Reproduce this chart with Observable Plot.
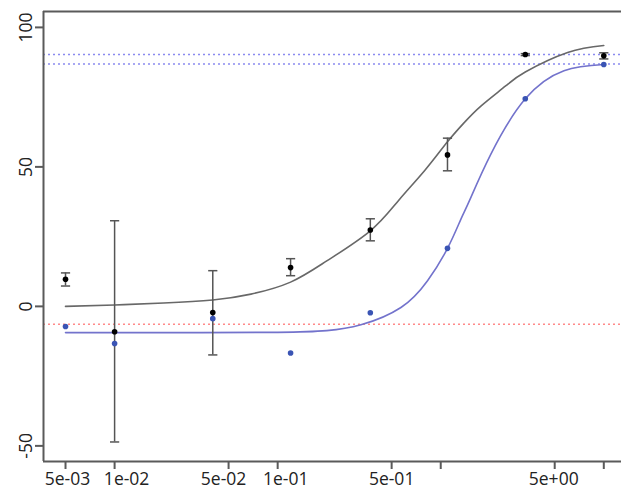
<!DOCTYPE html>
<html>
<head>
<meta charset="utf-8">
<script src="https://cdn.jsdelivr.net/npm/d3@7"></script>
<script src="https://cdn.jsdelivr.net/npm/@observablehq/plot@0.6"></script>
<style>
  html, body { margin: 0; padding: 0; background: white; }
  #chart svg { display: block; }
</style>
</head>
<body>
<div id="chart"></div>
<script>
// Doses (x) shared by both series
const doses = [0.005, 0.01, 0.04, 0.12, 0.37, 1.1, 3.3, 10];
// Black series: mean with error bars
const blackMean = [9.7, -9.1, -2.2, 13.9, 27.4, 54.3, 90.3, 89.8];
const blackLow  = [7.3, -48.6, -17.4, 11.0, 23.5, 48.6, 89.9, 88.7];
const blackHigh = [12.0, 30.7, 12.8, 17.1, 31.4, 60.3, 90.6, 90.9];
// Blue series points
const blueVals = [-7.2, -13.3, -4.4, -16.7, -2.3, 20.8, 74.4, 86.7];

// Fitted curves
const blackCurveX = [0.005, 0.01, 0.02, 0.04, 0.0686, 0.12, 0.2, 0.37, 0.55, 0.8, 1.1, 1.4, 1.77, 2.5, 3.3, 6, 10];
const blackCurveY = [0.0, 0.5, 1.2, 2.3, 4.4, 8.7, 16.3, 27.1, 37.9, 48.8, 59.0, 66.0, 71.9, 79.0, 84.0, 91.0, 93.5];
const blueCurveX = [0.005, 0.02, 0.1, 0.2, 0.324, 0.57, 0.83, 1.1, 1.33, 1.5, 2.03, 3.3, 5.7, 10];
const blueCurveY = [-9.4, -9.4, -9.3, -8.7, -6.6, -0.4, 9.2, 20.8, 31.3, 37.9, 54.6, 74.4, 84.5, 86.7];

// Reference lines
const blueRefLines = [90.3, 86.9];
const redRefLines = [-6.4];

// Axis ticks
const xTicks = [0.005, 0.01, 0.05, 0.1, 0.5, 1, 5, 10];
const xTickLabels = ["5e-03", "1e-02", "5e-02", "1e-01", "5e-01", "", "5e+00", ""];
const yTicks = [-50, 0, 50, 100];
const yTickLabels = ["-50", "0", "50", "100"];

// Layout only: small horizontal nudges of the x tick labels as placed in the reference
const xLabelNudge = [2, 12, -5, 8, 0, 0, -1, 0];

const xDomain = [0.003664, 12.84];
const yDomain = [-55.6, 105.7];

const blackData = doses.map((d, i) => ({x: d, y: blackMean[i], lo: blackLow[i], hi: blackHigh[i]}));
const blueData = doses.map((d, i) => ({x: d, y: blueVals[i]}));
const blackCurve = blackCurveX.map((d, i) => ({x: d, y: blackCurveY[i]}));
const blueCurve = blueCurveX.map((d, i) => ({x: d, y: blueCurveY[i]}));
const xLabelData = xTicks.map((t, i) => ({x: t, label: xTickLabels[i], nudge: xLabelNudge[i]})).filter(d => d.label !== "");
const yLabelData = yTicks.map((t, i) => ({y: t, label: yTickLabels[i]}));

const hbar = {
  draw(context, size) {
    const w = 4.6;
    context.moveTo(-w, 0);
    context.lineTo(w, 0);
  }
};

const axisColor = "#5a5a5a";
const labelSize = 17.5;

const xLabelMarks = xLabelData.map(d =>
  Plot.text([d], {x: "x", text: "label", frameAnchor: "bottom", dy: 11, dx: d.nudge, lineAnchor: "top", textAnchor: "middle", fill: "#222", fontSize: labelSize, ariaLabel: "xlabel"})
);

const chart = Plot.plot({
  width: 621,
  height: 490,
  marginLeft: 43,
  marginRight: 0,
  marginTop: 11,
  marginBottom: 29,
  x: {type: "log", domain: xDomain, label: null},
  y: {domain: yDomain, label: null},
  style: {fontFamily: "'Open Sans', sans-serif", fontSize: "18px", background: "white", color: "#222", overflow: "visible"},
  marks: [
    Plot.ruleY(blueRefLines, {stroke: "#8a8af0", strokeDasharray: "2,3", strokeWidth: 1.5}),
    Plot.ruleY(redRefLines, {stroke: "#ff8a8a", strokeDasharray: "2,3", strokeWidth: 1.5}),
    Plot.line(blackCurve, {x: "x", y: "y", stroke: "#686868", strokeWidth: 1.6, curve: "natural"}),
    Plot.line(blueCurve, {x: "x", y: "y", stroke: "#7373cc", strokeWidth: 1.6, curve: "natural"}),
    Plot.ruleX(blackData, {x: "x", y1: "lo", y2: "hi", stroke: "#555", strokeWidth: 1.5}),
    Plot.dot(blackData, {x: "x", y: "lo", symbol: hbar, stroke: "#555", strokeWidth: 1.5, fill: "none"}),
    Plot.dot(blackData, {x: "x", y: "hi", symbol: hbar, stroke: "#555", strokeWidth: 1.5, fill: "none"}),
    Plot.dot(blueData, {x: "x", y: "y", r: 2.8, fill: "#3a54b4", stroke: "none"}),
    Plot.dot(blackData, {x: "x", y: "y", r: 2.8, fill: "#000", stroke: "none"}),
    // box lines
    Plot.ruleX([xDomain[0]], {stroke: axisColor, strokeWidth: 2}),
    Plot.ruleY([yDomain[1]], {stroke: axisColor, strokeWidth: 2}),
    Plot.ruleY([yDomain[0]], {stroke: axisColor, strokeWidth: 2}),
    Plot.axisX({ticks: xTicks, tickFormat: () => "", tickSize: 8, stroke: axisColor, strokeWidth: 2, label: null}),
    Plot.axisY({ticks: yTicks, tickFormat: () => "", tickSize: 8, stroke: axisColor, strokeWidth: 2, label: null}),
    ...xLabelMarks,
    Plot.text(yLabelData, {y: "y", text: "label", frameAnchor: "left", dx: -17, rotate: -90, textAnchor: "middle", lineAnchor: "middle", fill: "#222", fontSize: labelSize, ariaLabel: "ylabel"})
  ]
});

// Widen the tick-label glyphs slightly (the reference's lettering is horizontally stretched)
d3.select(chart).selectAll('g[aria-label="xlabel"] text').each(function() {
  const t = d3.select(this);
  const x = +t.attr("x") || 0, y = +t.attr("y") || 0;
  const prev = t.attr("transform") || "";
  if (prev) {
    t.attr("transform", prev + " scale(1.12,1)");
  } else {
    t.attr("transform", `translate(${x},${y}) scale(1.12,1) translate(${-x},${-y})`);
  }
});
d3.select(chart).selectAll('g[aria-label="ylabel"] text').each(function() {
  const t = d3.select(this);
  const prev = t.attr("transform") || "";
  t.attr("transform", prev + " scale(1,1.2)");
});

document.getElementById("chart").appendChild(chart);
</script>
</body>
</html>
